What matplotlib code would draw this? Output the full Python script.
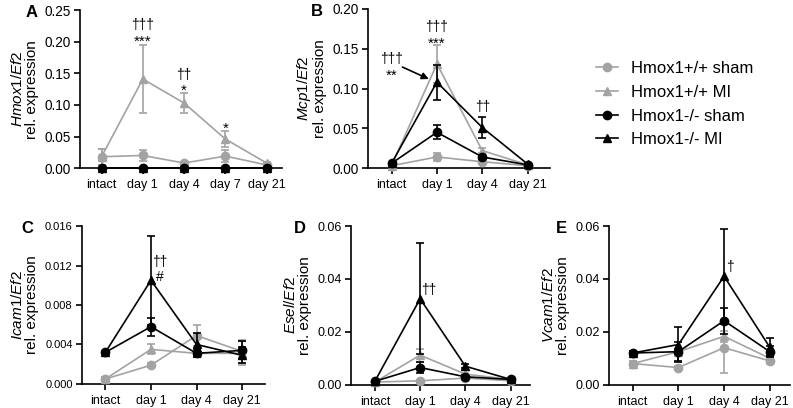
import numpy as np
import matplotlib
matplotlib.use("Agg")
import matplotlib.pyplot as plt
from matplotlib.lines import Line2D

plt.rcParams['font.family'] = ['Liberation Sans', 'DejaVu Sans']
plt.rcParams['mathtext.fontset'] = 'custom'
plt.rcParams['mathtext.rm'] = 'Liberation Sans'
plt.rcParams['mathtext.it'] = 'Liberation Sans:italic'

# Series names and styles
groups = ['Hmox1+/+ sham', 'Hmox1+/+ MI', 'Hmox1-/- sham', 'Hmox1-/- MI']
colors = ['#a3a3a3', '#a3a3a3', 'black', 'black']
markers = ['o', '^', 'o', '^']

# Panel A: Hmox1/Ef2
a_days = ['intact', 'day 1', 'day 4', 'day 7', 'day 21']
a_mean = [[0.018, 0.020, 0.008, 0.019, 0.005],
          [0.018, 0.141, 0.103, 0.046, 0.008],
          [0.0, 0.0, 0.0, 0.0, 0.0],
          [0.0, 0.0, 0.0, 0.0, 0.0]]
a_err = [[0.013, 0.009, 0.002, 0.009, 0.002],
         [0.013, 0.054, 0.016, 0.013, 0.002],
         [0.0, 0.0, 0.0, 0.0, 0.0],
         [0.0, 0.0, 0.0, 0.0, 0.0]]

# Panel B: Mcp1/Ef2
b_days = ['intact', 'day 1', 'day 4', 'day 21']
b_mean = [[0.003, 0.014, 0.008, 0.003],
          [0.003, 0.131, 0.022, 0.004],
          [0.006, 0.045, 0.014, 0.004],
          [0.006, 0.108, 0.051, 0.005]]
b_err = [[0.001, 0.005, 0.002, 0.001],
         [0.001, 0.024, 0.003, 0.001],
         [0.001, 0.009, 0.002, 0.001],
         [0.001, 0.022, 0.013, 0.001]]

# Panel C: Icam1/Ef2
c_days = ['intact', 'day 1', 'day 4', 'day 21']
c_mean = [[0.0005, 0.0019, 0.0049, 0.0033],
          [0.0005, 0.0035, 0.0031, 0.0031],
          [0.0032, 0.0058, 0.0031, 0.0034],
          [0.0032, 0.0105, 0.0040, 0.0029]]
c_err = [[0.0002, 0.0002, 0.0011, 0.0012],
         [0.0002, 0.0005, 0.0003, 0.0012],
         [0.0001, 0.0009, 0.0004, 0.0009],
         [0.0001, 0.0045, 0.0012, 0.0008]]

# Panel D: Esel/Ef2
d_days = ['intact', 'day 1', 'day 4', 'day 21']
d_mean = [[0.0010, 0.0015, 0.0025, 0.0015],
          [0.0010, 0.0112, 0.0040, 0.0020],
          [0.0013, 0.0065, 0.0030, 0.0020],
          [0.0013, 0.0325, 0.0070, 0.0020]]
d_err = [[0.0002, 0.0004, 0.0004, 0.0003],
         [0.0002, 0.0025, 0.0006, 0.0003],
         [0.0002, 0.0022, 0.0006, 0.0003],
         [0.0002, 0.0210, 0.0008, 0.0003]]

# Panel E: Vcam1/Ef2
e_days = ['intact', 'day 1', 'day 4', 'day 21']
e_mean = [[0.0080, 0.0065, 0.0140, 0.0090],
          [0.0080, 0.0125, 0.0183, 0.0100],
          [0.0120, 0.0125, 0.0242, 0.0125],
          [0.0120, 0.0152, 0.0410, 0.0142]]
e_err = [[0.0008, 0.0006, 0.0095, 0.0010],
         [0.0008, 0.0010, 0.0020, 0.0010],
         [0.0008, 0.0035, 0.0050, 0.0020],
         [0.0008, 0.0067, 0.0180, 0.0035]]


def draw_panel(ax, days, means, errs, ymax, yticks, fmt, gene, letter, xmax,
               ysize, letter_dx):
    x = np.arange(len(days))
    for i in range(len(groups)):
        ax.errorbar(x, means[i], yerr=errs[i], color=colors[i],
                    marker=markers[i], markersize=6, linewidth=1.2,
                    elinewidth=1.2, capsize=3, capthick=1.2,
                    clip_on=False, zorder=3 + i)
    ax.set_xlim(-0.52, xmax)
    ax.set_ylim(0, ymax)
    ax.set_yticks(yticks)
    ax.set_yticklabels([fmt.format(t) for t in yticks])
    ax.set_xticks(x)
    ax.set_xticklabels(days)
    ax.spines['top'].set_visible(False)
    ax.spines['right'].set_visible(False)
    ax.spines['left'].set_linewidth(1.2)
    ax.spines['bottom'].set_linewidth(1.2)
    ax.tick_params(width=1.2, length=4.5)
    ax.tick_params(axis='y', labelsize=ysize, pad=2)
    ax.tick_params(axis='x', labelsize=9)
    ax.set_ylabel('$\\it{' + gene + '/Ef2}$\nrel. expression', fontsize=11,
                  linespacing=1.0)
    # panel letter, placed at an offset left of the top of the y axis
    ax.annotate(letter, xy=(0, 1), xycoords='axes fraction',
                xytext=(letter_dx, -2), textcoords='offset points',
                fontsize=12, fontweight='bold', va='center', ha='center')


fig = plt.figure(figsize=(7.93, 4.08), dpi=100)
axA = fig.add_axes([0.101, 0.588, 0.255, 0.387])
axB = fig.add_axes([0.464, 0.588, 0.230, 0.390])
axC = fig.add_axes([0.103, 0.059, 0.231, 0.387])
axD = fig.add_axes([0.443, 0.057, 0.225, 0.389])
axE = fig.add_axes([0.768, 0.057, 0.228, 0.389])

draw_panel(axA, a_days, a_mean, a_err, 0.25, [0, 0.05, 0.10, 0.15, 0.20, 0.25],
           '{:.2f}', 'Hmox1', 'A', 4.38, 9.8, -35)
draw_panel(axB, b_days, b_mean, b_err, 0.20, [0, 0.05, 0.10, 0.15, 0.20],
           '{:.2f}', 'Mcp1', 'B', 3.5, 9.8, -37)
draw_panel(axC, c_days, c_mean, c_err, 0.016, [0, 0.004, 0.008, 0.012, 0.016],
           '{:.3f}', 'Icam1', 'C', 3.5, 8, -39)
draw_panel(axD, d_days, d_mean, d_err, 0.06, [0, 0.02, 0.04, 0.06],
           '{:.2f}', 'Esel', 'D', 3.42, 9, -37)
draw_panel(axE, e_days, e_mean, e_err, 0.06, [0, 0.02, 0.04, 0.06],
           '{:.2f}', 'Vcam1', 'E', 3.44, 9, -34)

# significance marks (daggers and asterisks as separate texts)
dag = dict(fontsize=10, ha='center', va='center')
ast = dict(fontsize=11, ha='center', va='center')
axA.text(1, 0.226, '\u2020\u2020\u2020', **dag)
axA.text(1, 0.200, '***', **ast)
axA.text(2, 0.147, '\u2020\u2020', **dag)
axA.text(2, 0.122, '*', **ast)
axA.text(3, 0.062, '*', **ast)

axB.text(1, 0.177, '\u2020\u2020\u2020', **dag)
axB.text(1, 0.156, '***', **ast)
axB.text(0.0, 0.137, '\u2020\u2020\u2020', **dag)
axB.text(0.0, 0.116, '**', **ast)
axB.annotate('', xy=(0.82, 0.112), xytext=(0.24, 0.127),
             arrowprops=dict(arrowstyle='-|>', color='black', lw=1.2,
                             mutation_scale=10, shrinkA=0, shrinkB=0))
axB.text(2, 0.077, '\u2020\u2020', **dag)

axC.text(1.2, 0.0124, '\u2020\u2020', **dag)
axC.text(1.2, 0.0108, '#', **dag)
axD.text(1.2, 0.0358, '\u2020\u2020', **dag)
axE.text(2.13, 0.0445, '\u2020', **dag)

# legend next to panel B (plain line + marker handles, no error bars)
handles = [Line2D([], [], color=colors[i], marker=markers[i], markersize=6,
                  linewidth=1.2) for i in range(len(groups))]
fig.legend(handles, groups, loc='upper left', bbox_to_anchor=(0.752, 0.85),
           frameon=False, fontsize=12, handlelength=1.3, handletextpad=0.8,
           labelspacing=0.52, borderpad=0, borderaxespad=0)

fig.savefig('out.png', dpi=100)
